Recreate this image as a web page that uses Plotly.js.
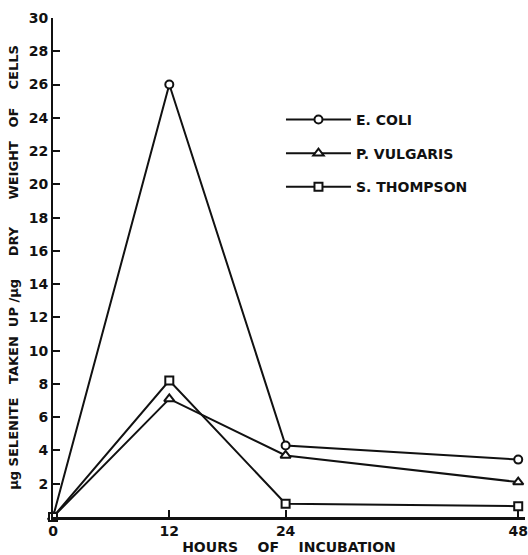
<!DOCTYPE html>
<html>
<head>
<meta charset="utf-8">
<script src="https://cdn.plot.ly/plotly-3.0.1.min.js"></script>
<style>html,body{margin:0;padding:0;background:#fff;}#chart{width:528px;height:555px;}</style>
</head>
<body>
<div id="chart"></div>
<script>
// Data
var hours = [0, 12, 24, 48];
var eColi = [0, 26.0, 4.3, 3.45];
var pVulgaris = [0, 7.1, 3.7, 2.1];
var sThompson = [0, 8.2, 0.8, 0.65];
var seriesNames = ["E. COLI", "P. VULGARIS", "S. THOMPSON"];
var xTickVals = [0, 12, 24, 48];
var xTickText = ["0", "12", "24", "48"];
var yTickVals = [2, 4, 6, 8, 10, 12, 14, 16, 18, 20, 22, 24, 26, 28, 30];

var FONT = "DejaVu Sans, Liberation Sans, sans-serif";
var ink = "#111";

function trace(y, name, symbol, size) {
  return {
    x: hours, y: y, name: name, legendgroup: name, type: "scatter", mode: "lines+markers",
    line: {color: ink, width: 2},
    marker: {symbol: symbol, size: size, color: "#fff", line: {color: ink, width: 2}},
    cliponaxis: false
  };
}

var data = [
  trace(eColi, seriesNames[0], "circle", 8),
  trace(pVulgaris, seriesNames[1], "triangle-up", 9),
  trace(sThompson, seriesNames[2], "square", 8)
];

function sp(n) { return "\u00a0".repeat(n); }
var yTitle = "\u03bcg" + sp(1) + "SELENITE" + sp(3) + "TAKEN" + sp(2) + "UP" + sp(1) + "/\u03bcg" + sp(5) +
             "DRY" + sp(6) + "WEIGHT" + sp(3) + "OF" + sp(4) + "CELLS";
var xTitle = "HOURS" + sp(4) + "OF" + sp(4) + "INCUBATION";

var layout = {
  width: 528, height: 555,
  margin: {l: 53, r: 3, t: 18, b: 38},
  paper_bgcolor: "#fff", plot_bgcolor: "#fff",
  font: {family: FONT, color: ink, size: 14, weight: "bold"},
  showlegend: true,
  legend: {
    x: 0.483, y: 0.828, xanchor: "left", yanchor: "top",
    bgcolor: "rgba(0,0,0,0)", borderwidth: 0,
    itemwidth: 65, tracegroupgap: 12.5,
    font: {family: FONT, size: 14, color: ink, weight: "bold"}
  },
  xaxis: {
    range: [0, 48.7], showgrid: false, zeroline: false,
    showline: true, linecolor: ink, linewidth: 2.6,
    ticks: "inside", ticklen: 7, tickwidth: 2, tickcolor: ink,
    tickmode: "array", tickvals: xTickVals, ticktext: xTickText,
    tickfont: {family: FONT, size: 14, color: ink, weight: "bold"},
    title: {text: xTitle, standoff: 3,
            font: {family: FONT, size: 14, color: ink, weight: "bold"}}
  },
  yaxis: {
    range: [0, 30], showgrid: false, zeroline: false,
    showline: true, linecolor: ink, linewidth: 2,
    ticks: "inside", ticklen: 7, tickwidth: 2, tickcolor: ink,
    tickmode: "array", tickvals: yTickVals,
    tickfont: {family: FONT, size: 14, color: ink, weight: "bold"},
    title: {text: yTitle, standoff: 7,
            font: {family: FONT, size: 13, color: ink, weight: "bold"}}
  }
};

Plotly.newPlot("chart", data, layout, {displayModeBar: false, staticPlot: true});
</script>
</body>
</html>
